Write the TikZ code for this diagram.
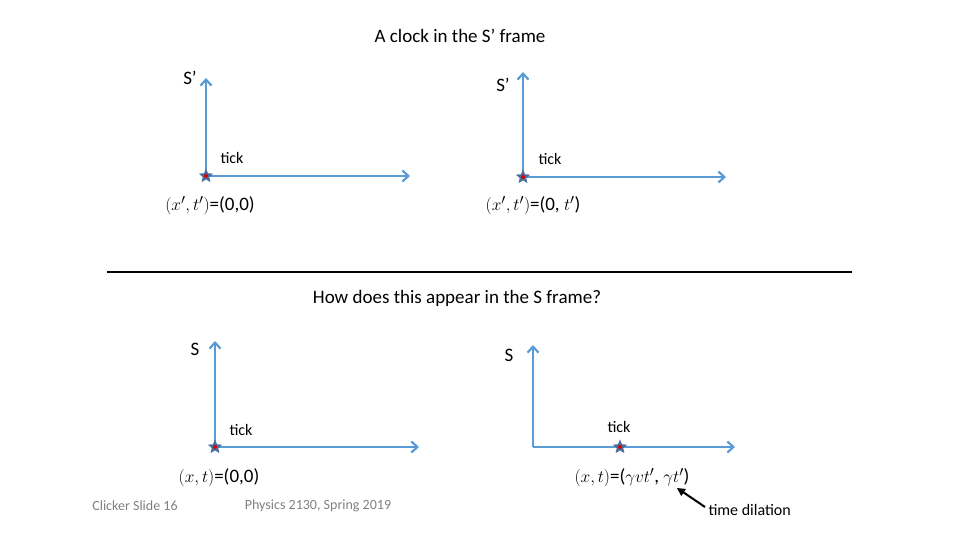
\documentclass[tikz,border=0pt]{standalone}
\usepackage{fontspec}
\setmainfont{Carlito}
\usetikzlibrary{shapes.geometric,arrows.meta}
\definecolor{ax}{RGB}{91,155,213}
\definecolor{st}{RGB}{75,110,160}
\begin{document}
\begin{tikzpicture}[x=1pt,y=-1pt,
  axis/.style={draw=ax,line width=2.2pt,-{Straight Barb[length=6pt,width=11pt]}},
  evt/.style={star,star points=5,star point ratio=2.2,fill=st,minimum size=15pt,inner sep=0pt},
  dot/.style={circle,fill=red!85!black,minimum size=4pt,inner sep=0pt},
  lab/.style={font=\fontsize{19}{22}\selectfont},
  sm/.style={font=\fontsize{16}{19}\selectfont},
  foot/.style={font=\fontsize{14}{17}\selectfont,text=gray}]
\useasboundingbox (0,0) rectangle (960,540);
\node[lab] (t1) at (460,36) {A clock in the S’ frame};
\node[lab] (t2) at (457,298) {How does this appear in the S frame?};
\coordinate (la) at (107,272); \coordinate (lb) at (852,272);
\draw[line width=1.2pt] (la) -- (lb);
% panel 1
\coordinate (o1) at (206,176);
\coordinate (u1) at (206,78); \coordinate (r1) at (410,176);
\draw[axis] (o1) -- (u1); \draw[axis] (o1) -- (r1);
\node[evt] (e1) at (o1) {}; \node[dot] at (o1) {};
\node[lab] (s1) at (190,78) {S’};
\node[sm] (k1) at (232,158) {tick};
\node[lab] (p1) at (210,206) {$(x',t')$=(0,0)};
% panel 2
\coordinate (o2) at (523,177);
\coordinate (u2) at (523,72); \coordinate (r2) at (726,177);
\draw[axis] (o2) -- (u2); \draw[axis] (o2) -- (r2);
\node[evt] (e2) at (o2) {}; \node[dot] at (o2) {};
\node[lab] (s2) at (503,85) {S’};
\node[sm] (k2) at (550,159) {tick};
\node[lab] (p2) at (533,206) {$(x',t')$=(0, $t'$)};
% panel 3
\coordinate (o3) at (215,447);
\coordinate (u3) at (215,341); \coordinate (r3) at (419,447);
\draw[axis] (o3) -- (u3); \draw[axis] (o3) -- (r3);
\node[evt] (e3) at (o3) {}; \node[dot] at (o3) {};
\node[lab] (s3) at (195,349) {S};
\node[sm] (k3) at (241,430) {tick};
\node[lab] (p3) at (219,478) {$(x,t)$=(0,0)};
% panel 4
\coordinate (o4) at (533,447);
\coordinate (u4) at (533,345); \coordinate (r4) at (735,447);
\draw[axis] (o4) -- (u4); \draw[axis] (o4) -- (r4);
\node[evt] (e4) at (620,447) {}; \node[dot] at (620,447) {};
\node[lab] (s4) at (509,355) {S};
\node[sm] (k4) at (619,427) {tick};
\node[lab] (p4) at (632,478) {$(x,t)$=($\gamma vt'$, $\gamma t'$)};
% footer
\node[foot] (f1) at (135,506) {Clicker Slide 16};
\node[foot] (f2) at (318,506) {Physics 2130, Spring 2019};
\node[sm,anchor=west] (td) at (705,510) {time dilation};
\coordinate (tip) at (677,488);
\draw[line width=2pt,-{Triangle[length=8pt,width=8pt]}] (td.west) ++(0,-3) -- (tip);
\end{tikzpicture}
\end{document}
